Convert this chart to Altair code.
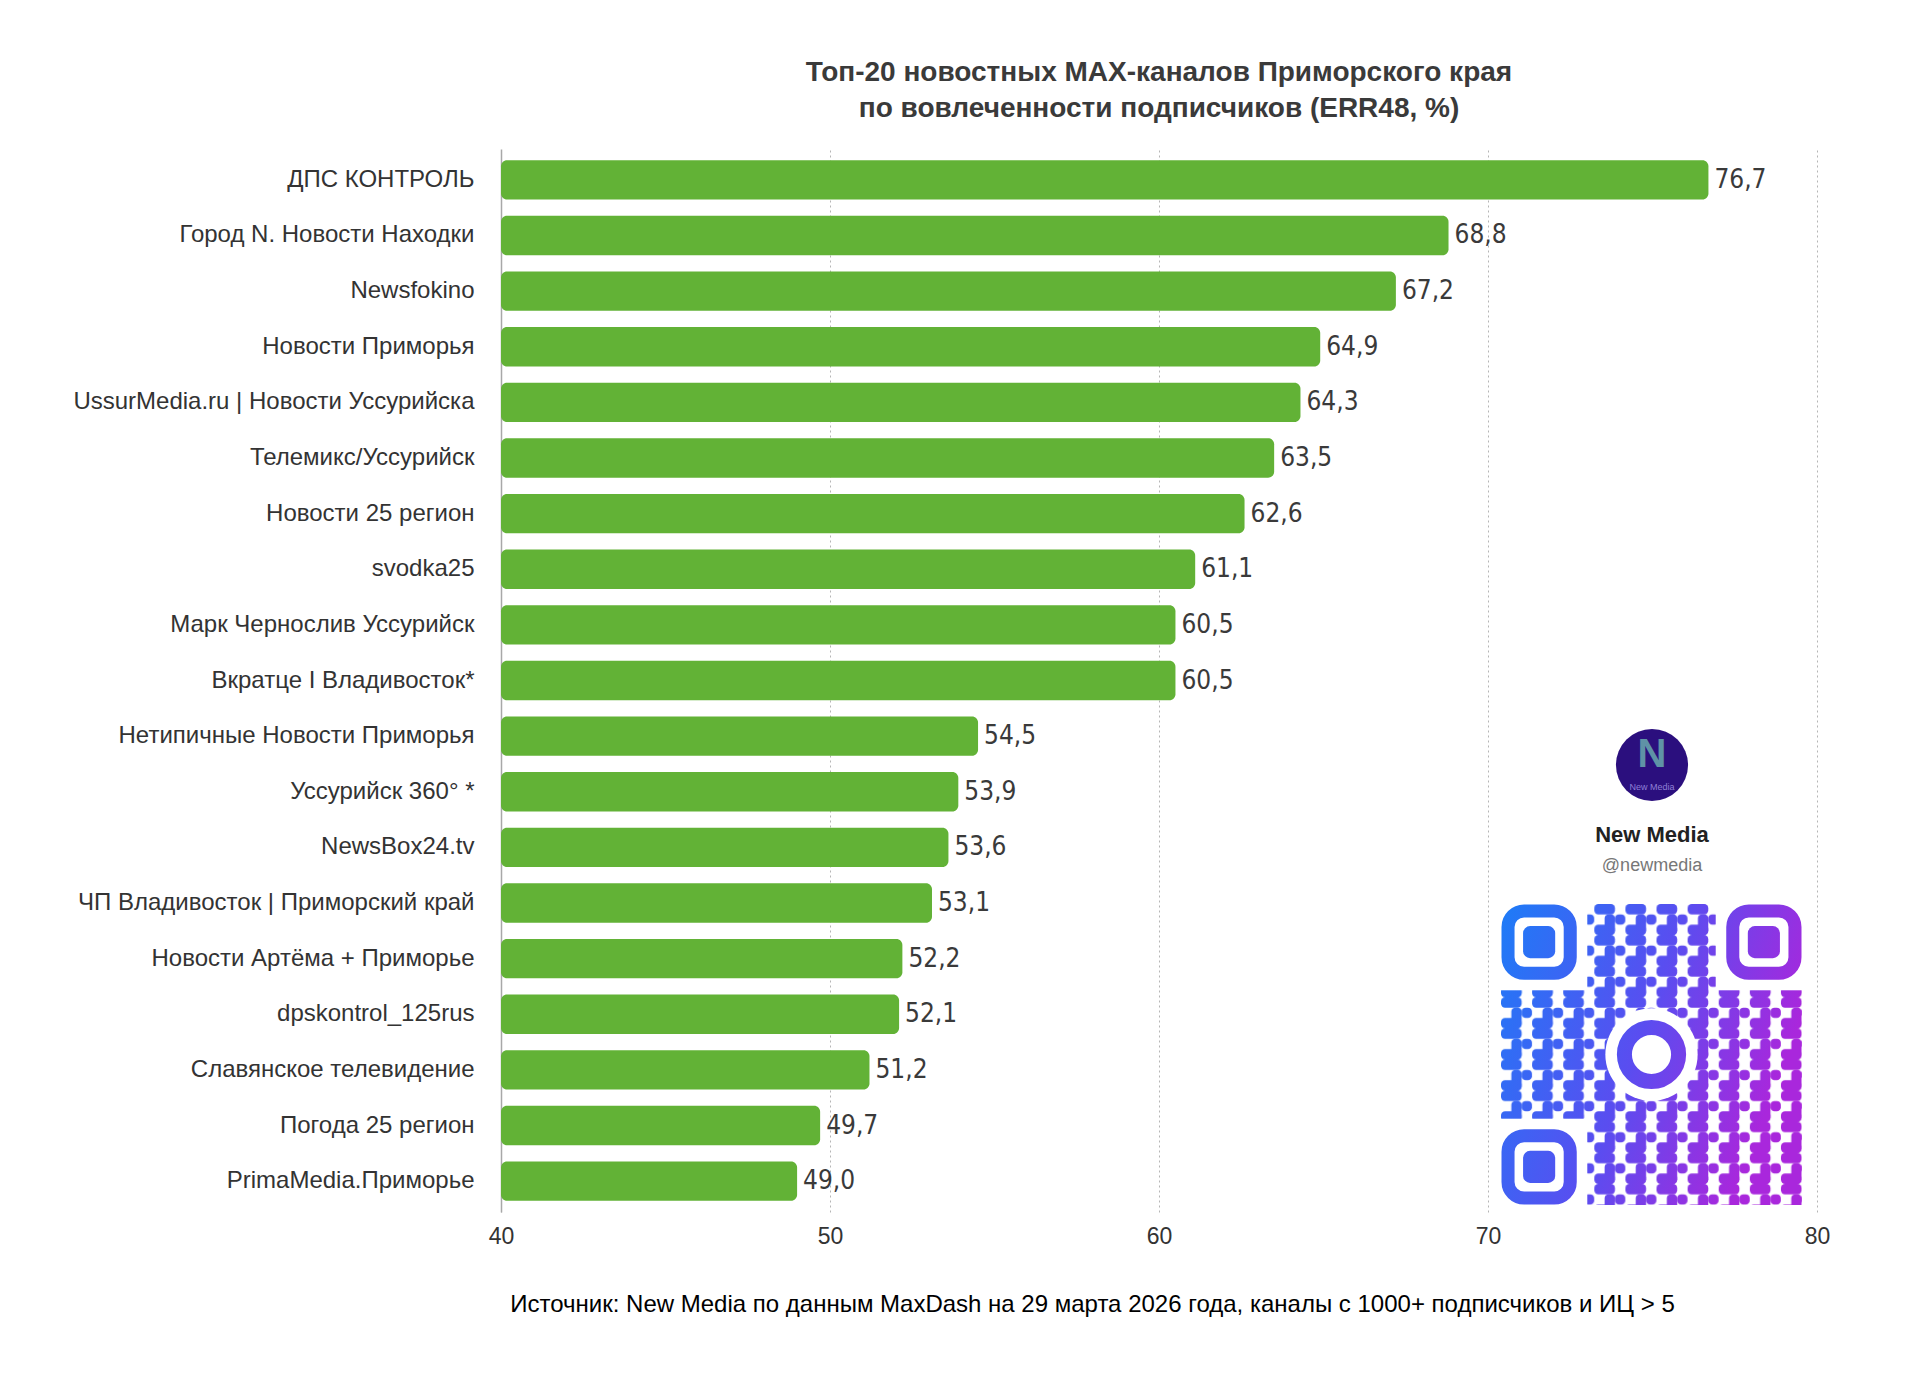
import base64
import altair as alt
import pandas as pd

channels = [
    "ДПС КОНТРОЛЬ",
    "Город N. Новости Находки",
    "Newsfokino",
    "Новости Приморья",
    "UssurMedia.ru | Новости Уссурийска",
    "Телемикс/Уссурийск",
    "Новости 25 регион",
    "svodka25",
    "Марк Чернослив Уссурийск",
    "Вкратце I Владивосток*",
    "Нетипичные Новости Приморья",
    "Уссурийск 360° *",
    "NewsBox24.tv",
    "ЧП Владивосток | Приморский край",
    "Новости Артёма + Приморье",
    "dpskontrol_125rus",
    "Славянское телевидение",
    "Погода 25 регион",
    "PrimaMedia.Приморье",
]
err48 = [76.7, 68.8, 67.2, 64.9, 64.3, 63.5, 62.6, 61.1, 60.5, 60.5,
         54.5, 53.9, 53.6, 53.1, 52.2, 52.1, 51.2, 49.7, 49.0]
x_ticks = [40, 50, 60, 70, 80]

title_lines = ["Топ-20 новостных MAX-каналов Приморского края",
               "по вовлеченности подписчиков (ERR48, %)"]
source_text = "Источник: New Media по данным MaxDash на 29 марта 2026 года, каналы с 1000+ подписчиков и ИЦ > 5"

df = pd.DataFrame({"channel": channels, "err": err48})
df["label"] = df["err"].map(lambda v: f"{v:.1f}".replace(".", ","))

W, H = 1316, 1063
SANS = "Liberation Sans, Arial, Helvetica, sans-serif"
NARROW = "Liberation Sans Narrow, DejaVu Sans Condensed, Roboto Condensed, sans-serif"

x_axis = alt.Axis(
    values=x_ticks, format="d", domain=False, ticks=False, labelFlush=False,
    labelFontSize=23, labelColor="#333333", labelFont=SANS, labelPadding=13,
    grid=True, gridColor="#b5b5b5", gridDash=[2, 3], gridWidth=1,
    title=source_text, titleFont=SANS, titleFontSize=24, titleFontWeight="normal",
    titleColor="#000000", titleX=591, titleY=92, titleAlign="center",
    titleBaseline="middle",
)
x_scale = alt.Scale(domain=[40, 80], zero=False, nice=False, clamp=True)
y_axis = alt.Axis(
    title=None, ticks=False, domain=True, domainColor="#a8a8a8", domainWidth=1.5,
    labelFontSize=24, labelColor="#333333", labelFont=SANS, labelPadding=27,
    labelLimit=600, grid=False,
)
y_scale = alt.Scale(paddingInner=0.29, paddingOuter=0.2)

bars = alt.Chart(df).mark_bar(color="#62b236", cornerRadiusEnd=6).encode(
    x=alt.X("err:Q", scale=x_scale, axis=x_axis),
    x2=alt.datum(40),
    y=alt.Y("channel:N", sort=channels, scale=y_scale, axis=y_axis),
)
labels = alt.Chart(df).mark_text(
    align="left", baseline="middle", dx=6, fontSize=26, font=NARROW, color="#3a3a3a"
).encode(
    x=alt.X("err:Q", scale=x_scale, axis=x_axis),
    y=alt.Y("channel:N", sort=channels, scale=y_scale, axis=y_axis),
    text="label:N",
)

# QR-code style badge (decorative picture)
svg = """<svg xmlns='http://www.w3.org/2000/svg' width='300' height='300' viewBox='0 0 300 300'>
<defs>
<linearGradient id='g' x1='0' y1='0' x2='300' y2='110' gradientUnits='userSpaceOnUse'>
<stop offset='0' stop-color='#1d7cf7'/><stop offset='0.55' stop-color='#5a4df0'/>
<stop offset='1' stop-color='#a927dc'/></linearGradient>
<pattern id='p' x='0' y='0' width='31' height='31' patternUnits='userSpaceOnUse'>
<rect x='0' y='0' width='20.6' height='10.3' rx='4' fill='white'/>
<rect x='20.6' y='10.3' width='10.3' height='10.3' rx='4' fill='white'/>
<rect x='0' y='20.6' width='20.6' height='10.3' rx='4' fill='white'/>
<rect x='10.3' y='10.3' width='10.3' height='20.6' rx='4' fill='white'/>
</pattern>
<mask id='m'>
<rect x='0' y='0' width='300' height='300' fill='url(#p)'/>
<rect x='0' y='0' width='86' height='86' fill='black'/>
<rect x='214' y='0' width='86' height='86' fill='black'/>
<rect x='0' y='214' width='86' height='86' fill='black'/>
<circle cx='150' cy='150' r='46' fill='black'/>
</mask>
</defs>
<rect x='0' y='0' width='300' height='300' fill='url(#g)' mask='url(#m)'/>
<g fill='none' stroke='url(#g)' stroke-width='13'>
<rect x='7' y='7' width='62' height='62' rx='16'/>
<rect x='231' y='7' width='62' height='62' rx='16'/>
<rect x='7' y='231' width='62' height='62' rx='16'/>
<circle cx='150' cy='150' r='27' stroke-width='15'/>
</g>
<g fill='url(#g)'>
<rect x='22' y='22' width='32' height='32' rx='7'/>
<rect x='246' y='22' width='32' height='32' rx='7'/>
<rect x='22' y='246' width='32' height='32' rx='7'/>
</g></svg>"""
qr_url = "data:image/svg+xml;base64," + base64.b64encode(svg.encode()).decode()

one = pd.DataFrame({"k": [0]})
qr = alt.Chart(one).mark_image(
    url=qr_url, width=301, height=301, align="left", baseline="top"
).encode(x=alt.value(1000), y=alt.value(755))
logo = alt.Chart(one).mark_circle(size=5200, color="#2b0f7e", opacity=1).encode(
    x=alt.value(1151), y=alt.value(616)
)
logo_n = alt.Chart(one).mark_text(
    text="N", fontSize=40, fontWeight="bold", font=SANS, color="#5f93a6"
).encode(x=alt.value(1151), y=alt.value(606))
logo_small = alt.Chart(one).mark_text(
    text="New Media", fontSize=9, font=SANS, color="#8f7fd6"
).encode(x=alt.value(1151), y=alt.value(638))
name = alt.Chart(one).mark_text(
    text="New Media", fontSize=22, fontWeight="bold", font=SANS, color="#222222"
).encode(x=alt.value(1151), y=alt.value(686))
handle = alt.Chart(one).mark_text(
    text="@newmedia", fontSize=18, font=SANS, color="#777777"
).encode(x=alt.value(1151), y=alt.value(717))

chart = alt.layer(bars, labels, qr, logo, logo_n, logo_small, name, handle).properties(
    width=W,
    height=H,
    title=alt.TitleParams(
        text=title_lines, font=SANS, fontSize=28, fontWeight="bold", color="#3a3a3a",
        anchor="middle", lineHeight=36, offset=26,
    ),
    view=alt.ViewBackground(stroke="transparent", strokeWidth=0),
    autosize=alt.AutoSizeParams(type="none"),
    padding={"left": 493, "top": 141, "right": 95, "bottom": 150},
).configure_view(strokeWidth=0, stroke="transparent").configure(background="#ffffff")

chart.save("out.html", embed_options={"renderer": "svg", "actions": False})
